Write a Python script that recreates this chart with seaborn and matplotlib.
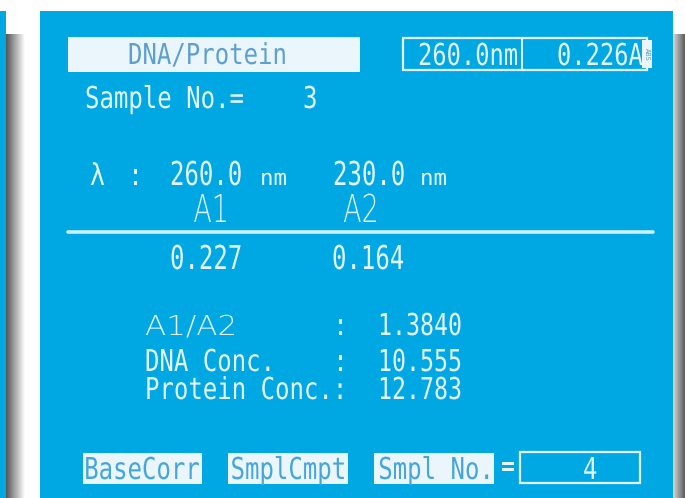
import numpy as np
import matplotlib
matplotlib.use("Agg")
import matplotlib.pyplot as plt
import seaborn as sns
from matplotlib.patches import Rectangle, PathPatch
from matplotlib.textpath import TextPath
from matplotlib.font_manager import FontProperties
from matplotlib.transforms import Affine2D

# Values shown on the instrument display
mode_title = "DNA/Protein"
sample_no = 3
next_sample_no = 4
live_wavelength = 260.0
live_abs = 0.226
wavelengths = [260.0, 230.0]
abs_labels = ["A1", "A2"]
absorbances = [0.227, 0.164]
result_labels = ["A1/A2", "DNA Conc.", "Protein Conc.:"]
result_values = ["1.3840", "10.555", "12.783"]
buttons = ["BaseCorr", "SmplCmpt", "Smpl No."]

sns.set_theme(style="white")
plt.rcParams["font.family"] = ["DejaVu Sans Mono", "DejaVu Sans"]

BLUE = "#00A8E3"
TXT = "#E4F5FF"
BOXFILL = "#EAF5FC"
BOXTXT = "#5CA0CF"
BTNTXT = "#45A6DA"

MONO = FontProperties(family="DejaVu Sans Mono")
SANS = FontProperties(family="DejaVu Sans", weight="light")

fig = plt.figure(figsize=(6.85, 4.98), dpi=100)
ax = fig.add_axes([0, 0, 1, 1])


def lcd(x0, base, s, cap=22, pitch=14.45, color=TXT, prop=MONO, adv=0.602, ha="left"):
    # draw text as a path squeezed to the display's narrow character pitch
    tp = TextPath((0, 0), s, size=1, prop=prop)
    sx = pitch / adv
    sy = cap / 0.729
    if ha == "center":
        ext = tp.get_extents()
        x0 = x0 - (ext.x0 + ext.x1) / 2 * sx
    tr = Affine2D().scale(sx, -sy).translate(x0, base)
    ax.add_patch(PathPatch(tr.transform_path(tp), fc=color, lw=0))


# background pieces: blue strip, shadows, main panel
ax.add_patch(Rectangle((0, 11), 6, 487, color=BLUE, lw=0))
grad = np.linspace(0.33, 1.0, 64)[None, :]
ax.imshow(np.repeat(grad, 2, axis=0), cmap="gray", vmin=0, vmax=1,
          extent=(6, 25, 498, 34), aspect="auto", interpolation="bicubic")
grad_r = np.linspace(0.85, 0.35, 64)[None, :]
ax.imshow(np.repeat(grad_r, 2, axis=0), cmap="gray", vmin=0, vmax=1,
          extent=(673, 685, 498, 34), aspect="auto", interpolation="bicubic")
ax.add_patch(Rectangle((40, 11), 633, 487, color=BLUE, lw=0))

# title box
ax.add_patch(Rectangle((68, 37), 292, 35, color=BOXFILL, lw=0))
lcd(128, 64, mode_title, cap=21, color=BOXTXT)

# live reading box
ax.add_patch(Rectangle((403, 38), 244, 32, fill=False, ec=TXT, lw=1.6))
ax.plot([522, 522], [38, 70], color=TXT, lw=1.4)
lcd(418, 65, f"{live_wavelength:.1f}nm", cap=22, pitch=14.3)
lcd(557, 65, f"{live_abs:.3f}A", cap=22, pitch=14.3)
ax.add_patch(Rectangle((642, 40), 10, 28, color=BOXFILL, lw=0))
ax.text(647, 54, "ABS", color=BOXTXT, fontsize=5, rotation=270, ha="center", va="center")

lcd(85, 108, "Sample No.=", cap=22)
lcd(303, 108, str(sample_no), cap=22)

# wavelength row
lcd(90, 185, "λ", cap=22, pitch=15)
lcd(128, 185, ":", cap=22)
for x0, wl in zip([170, 333], wavelengths):
    lcd(x0, 185, f"{wl:.1f}", cap=24)
for x0 in [260, 420]:
    lcd(x0, 185, "nm", cap=16, pitch=13.5)
for xc, lab in zip([210, 360], abs_labels):
    lcd(xc, 222, lab, cap=28, pitch=17, prop=SANS, adv=0.63, ha="center")
ax.plot([68, 653], [232, 232], color="#C8F0FF", lw=2.6, solid_capstyle="round")
for x0, a in zip([170, 332], absorbances):
    lcd(x0, 269, f"{a:.3f}", cap=24)

# results
bases = [335, 371, 399]
for base, lab, val in zip(bases, result_labels, result_values):
    if lab == "A1/A2":
        lcd(145, base, lab, cap=20, pitch=19.5, prop=SANS, adv=0.63)
    else:
        lcd(145, base, lab, cap=22)
    if not lab.endswith(":"):
        lcd(333, base, ":", cap=22)
    lcd(378, base, val, cap=22, pitch=14)

# bottom buttons
for x0, w, lab in zip([83, 228, 374], [119, 120, 120], buttons):
    ax.add_patch(Rectangle((x0, 453), w, 31, color=BOXFILL, lw=0))
    lcd(x0 + w / 2, 479, lab, cap=22, color=BTNTXT, ha="center")
lcd(501, 476, "=", cap=22, pitch=14)
ax.add_patch(Rectangle((520, 452), 120, 31, fill=False, ec=TXT, lw=1.6))
lcd(583, 479, str(next_sample_no), cap=22)

ax.set_xlim(0, 685)
ax.set_ylim(498, 0)
ax.axis("off")
fig.savefig("out.png", dpi=100)
